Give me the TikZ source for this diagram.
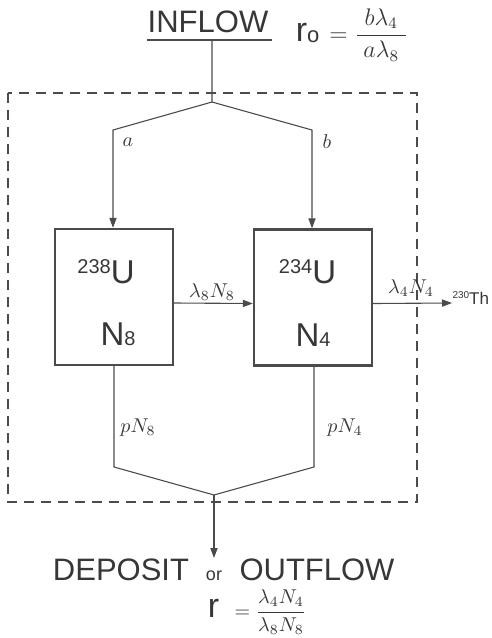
\documentclass[tikz,border=0pt]{standalone}
\usepackage{fontspec}
\usepackage{amsmath}
\usetikzlibrary{arrows.meta}
\newfontfamily\rotulo{Liberation Sans}
\definecolor{tinta}{RGB}{55,55,55}
\definecolor{trazo}{RGB}{75,75,75}
\newcommand\isotopo[2]{\raisebox{5pt}{\fontsize{10}{10}\selectfont #1}#2}

\begin{document}
\begin{tikzpicture}[x=0.5pt, y=-0.5pt, >={Triangle[length=5pt,width=3.6pt]}, line width=0.55pt,
    caja/.style={draw=trazo, line width=1.2pt, minimum width=59pt, minimum height=68pt, inner sep=0pt},
    grande/.style={font=\rotulo\fontsize{15.5}{16}\selectfont, text=tinta, inner sep=0pt},
    nucleo/.style={font=\rotulo\fontsize{16.5}{17}\selectfont, text=tinta, inner sep=0pt},
    etiq/.style={text=tinta, inner sep=0pt}]
    \useasboundingbox (0,0) rectangle (492,638);
    \draw[trazo, dash pattern=on 5pt off 3.5pt, line width=0.65pt] (8,93) rectangle (417,502);
    % entrada
    \node[grande] (inflow) at (208,22) {INFLOW};
    \draw[trazo, line width=0.9pt] (147,40) -- (272,40);
    \node[etiq] (rcero) at (352,35) {{\rotulo\fontsize{17}{17}\selectfont r\raisebox{-0.5pt}{\fontsize{11}{11}\selectfont o}}\, {\large$=\dfrac{\;b\lambda_4\;}{\;a\lambda_8\;}$}};
    \coordinate (top) at (212,40);
    \coordinate (split) at (212,102);
    \coordinate (ka) at (113,130);
    \coordinate (kb) at (312,130);
    % cajas
    \node[caja] (u8) at (114,297) {};
    \node[caja] (u4) at (313,297.5) {};
    \node[nucleo] (iso8) at (106,272) {\isotopo{238}{U}};
    \node[nucleo] (iso4) at (307.5,272) {\isotopo{234}{U}};
    \node[nucleo] (n8) at (118,334) {N{\fontsize{10}{10}\selectfont 8}};
    \node[nucleo] (n4) at (313,335) {N{\fontsize{10}{10}\selectfont 4}};
    % flujos de entrada
    \draw[trazo,->] (top) -- (split) -- (ka) -- (ka |- u8.north);
    \draw[trazo,->] (split) -- (kb) -- (kb |- u4.north);
    \node[etiq] (la) at (128,142) {$a$};
    \node[etiq] (lb) at (327,142) {$b$};
    % desintegracion
    \draw[trazo,->] ([yshift=-3pt]u8.east) -- ([yshift=-3pt]u4.west);
    \node[etiq] (l8) at (212,292) {$\lambda_8 N_8$};
    \node[etiq, anchor=west] (th) at (452,298) {\rotulo\raisebox{3pt}{\fontsize{5}{5}\selectfont 230}\fontsize{8.5}{8.5}\selectfont Th};
    \draw[trazo,->] ([yshift=-3pt]u4.east) -- (th.west |- 0,303);
    \node[etiq] (l4) at (411,288) {$\lambda_4 N_4$};
    % salida
    \coordinate (b8) at (114,467);
    \coordinate (b4) at (314,467);
    \coordinate (join) at (214,495);
    \coordinate (outtip) at (214,558);
    \draw[trazo] (u8.south -| b8) -- (b8) -- (join) -- (b4) -- (u4.south -| b4);
    \draw[trazo,->] (join) -- (outtip);
    \node[etiq] (p8) at (138,428) {$pN_8$};
    \node[etiq] (p4) at (345,428) {$pN_4$};
    \node[grande] (dep) at (121,570) {DEPOSIT};
    \node[etiq, font=\rotulo\fontsize{9}{9}\selectfont] (or) at (214,576) {or};
    \node[grande] (out) at (317,570) {OUTFLOW};
    \node[etiq] (rfin) at (257,612) {{\rotulo\fontsize{17}{17}\selectfont r}\;\, $=\dfrac{\lambda_4 N_4}{\lambda_8 N_8}$};
\end{tikzpicture}
\end{document}
